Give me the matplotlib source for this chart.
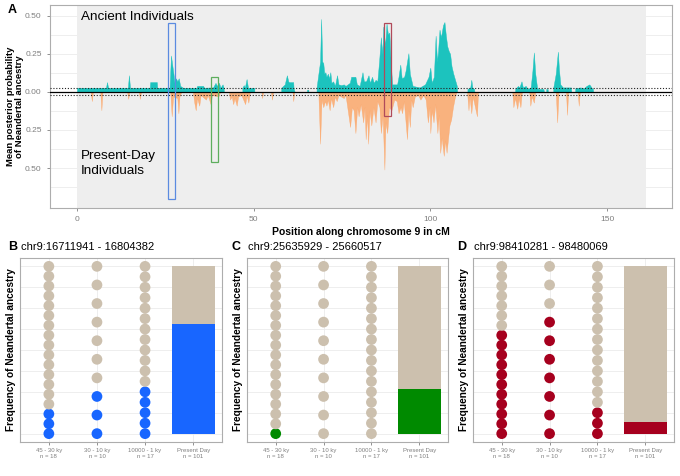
import matplotlib
matplotlib.use("Agg")
import matplotlib.pyplot as plt
from matplotlib.patches import Rectangle

plt.rcParams["font.family"] = ["Liberation Sans", "DejaVu Sans"]

# ── Panel A data: mean posterior probability along chr9 (cM, value) ─────────
ancient_cm = [0, 0, 8.2, 8.5, 8.8, 14.4, 14.7, 15.0, 20.6, 20.7, 22.6, 22.7,
              26.2, 26.6, 27.0, 27.3, 27.6, 28.0, 28.4, 28.8, 29.2, 30.0,
              33.8, 34.0, 35.7, 36.0, 38.5, 39.2, 39.6, 40.2, 40.6, 41.2, 41.5, 41.6,
              46.8, 46.8, 47.2, 47.5, 48.0, 48.4, 50.2, 50.2,
              57.8, 57.8, 58.8, 59.4, 59.8, 60.0, 61.2, 61.3, 61.6,
              65.1, 65.1, 65.5, 65.5,
              67.8, 67.8, 68.8, 69.1, 69.4, 69.7, 70.0, 70.3, 70.6, 71.0, 71.4,
              71.7, 72.0, 72.5, 73.0, 73.6, 74.0, 74.8, 75.5, 76.0, 77.2, 77.6,
              78.8, 79.2, 80.0, 80.8, 81.2, 81.8, 82.5, 82.9, 83.5, 84.0, 84.5,
              85.0, 85.5, 86.0, 86.4, 86.7, 87.2, 87.6, 88.0, 88.4, 88.8, 89.2,
              90.6, 91.0, 91.5, 91.9, 92.6, 93.0, 93.8, 94.2, 94.6, 95.0, 97.0,
              98.5, 99.5, 100.0, 100.4, 101.0, 101.5, 101.9, 102.2, 102.6, 103.0,
              103.6, 104.0, 104.4, 104.8, 105.2, 105.6, 106.0, 106.5, 107.0,
              107.5, 107.6,
              110.5, 110.5, 111.3, 111.6, 111.9, 112.4, 112.5,
              124.0, 124.0, 124.8, 125.2, 125.8, 126.2, 127.0, 127.5, 128.4,
              128.9, 129.3, 129.7, 130.2, 130.5, 132.0, 132.2,
              132.8, 132.8, 133.2, 133.3,
              134.8, 134.8, 135.5, 136.1, 136.4, 136.8, 137.5, 139.8, 139.9,
              141.0, 141.0, 142.5, 143.5, 144.2, 145.0, 145.6, 146.0, 146.1]
ancient_val = [0, 0.028, 0.028, 0.065, 0.028, 0.028, 0.11, 0.028, 0.028, 0.065, 0.065, 0.028,
               0.028, 0.24, 0.17, 0.12, 0.06, 0.09, 0.07, 0.09, 0.04, 0.028,
               0.028, 0.04, 0.04, 0.028, 0.03, 0.06, 0.04, 0.06, 0.028, 0.05, 0.028, 0,
               0, 0.028, 0.045, 0.028, 0.085, 0.028, 0.028, 0,
               0, 0.028, 0.05, 0.11, 0.07, 0.065, 0.065, 0.028, 0,
               0, 0.015, 0.015, 0,
               0, 0.03, 0.2, 0.48, 0.2, 0.19, 0.12, 0.13, 0.1, 0.12, 0.09,
               0.13, 0.06, 0.07, 0.04, 0.11, 0.05, 0.045, 0.05, 0.04, 0.06, 0.1,
               0.1, 0.05, 0.04, 0.13, 0.07, 0.07, 0.11, 0.06, 0.1, 0.06, 0.08,
               0.07, 0.2, 0.36, 0.25, 0.43, 0.3, 0.45, 0.38, 0.39, 0.19, 0.05,
               0.05, 0.1, 0.18, 0.09, 0.1, 0.14, 0.255, 0.12, 0.08, 0.04, 0.03,
               0.05, 0.1, 0.16, 0.06, 0.1, 0.37, 0.2, 0.27, 0.41, 0.36,
               0.44, 0.46, 0.37, 0.3, 0.27, 0.25, 0.17, 0.12, 0.08,
               0.04, 0,
               0, 0.02, 0.03, 0.08, 0.03, 0.02, 0,
               0, 0.02, 0.04, 0.03, 0.07, 0.03, 0.04, 0.02, 0.03,
               0.14, 0.26, 0.12, 0.03, 0.02, 0.02, 0,
               0, 0.02, 0.02, 0,
               0, 0.03, 0.12, 0.265, 0.15, 0.05, 0.03, 0.03, 0,
               0, 0.025, 0.03, 0.025, 0.04, 0.05, 0.03, 0.02, 0]

present_cm = [0, 3.9, 4.2, 4.5, 6.6, 6.9, 7.2, 14.2, 14.5, 14.8, 17.5, 17.8, 18.1,
              26.4, 26.8, 27.2, 28.4, 28.7, 29.0, 29.5, 32.8, 33.2, 33.6, 34.0,
              34.6, 35.0, 36.5, 37.0, 37.8, 38.2, 40.0, 40.5, 43.0, 43.3, 43.8,
              44.2, 44.6, 45.2, 45.6, 46.5, 47.6, 48.0, 48.5, 48.9, 52.2, 52.4,
              52.7, 54.9, 55.2, 55.5, 61.0, 61.2, 61.5, 68.3, 68.8, 69.2, 69.7,
              70.2, 70.6, 71.0, 71.5, 71.9, 72.5, 73.0, 73.5, 74.0, 75.5, 76.0,
              77.3, 77.8, 78.3, 78.8, 79.3, 79.7, 80.3, 81.0, 81.4, 81.7, 82.1,
              82.4, 82.8, 83.3, 83.9, 84.5, 85.0, 85.6, 86.0, 86.5, 87.0, 87.3,
              87.8, 88.3, 89.0, 89.8, 90.5, 91.0, 91.6, 92.0, 92.5, 93.4, 93.8,
              94.2, 94.6, 95.0, 95.6, 96.5, 97.2, 98.0, 98.7, 99.3, 99.8, 100.0,
              100.4, 100.9, 101.4, 102.0, 102.4, 102.8, 103.2, 103.8, 104.2,
              104.6, 105.0, 105.4, 105.9, 106.4, 106.9, 107.4, 110.4, 110.8,
              111.1, 111.6, 112.0, 113.2, 113.5, 123.2, 123.5, 124.0, 124.6,
              125.0, 125.5, 125.9, 128.0, 128.3, 128.7, 129.3, 129.7, 135.5,
              135.9, 136.3, 138.4, 138.7, 139.0, 141.7, 142.0, 142.3]
present_val = [0, 0, 0.06, 0, 0, 0.12, 0, 0, 0.045, 0, 0, 0.045, 0,
               0, 0.16, 0.03, 0.04, 0.14, 0.03, 0, 0, 0.07, 0.12, 0.04,
               0.09, 0.02, 0.05, 0.02, 0.08, 0.02, 0.03, 0, 0, 0.05, 0.03,
               0.08, 0.04, 0.09, 0.03, 0.02, 0.08, 0.02, 0.07, 0, 0, 0.04,
               0, 0, 0.05, 0, 0, 0.06, 0, 0, 0.34, 0.05, 0.1,
               0.06, 0.09, 0.05, 0.12, 0.04, 0.1, 0.03, 0.06, 0.02, 0.04, 0.02,
               0.23, 0.1, 0.12, 0.27, 0.1, 0.16, 0.08, 0.2, 0.1, 0.31, 0.15,
               0.34, 0.12, 0.22, 0.1, 0.2, 0.06, 0.1, 0.27, 0.15, 0.51, 0.2,
               0.27, 0.1, 0.12, 0.05, 0.06, 0.14, 0.1, 0.14, 0.06, 0.31, 0.12,
               0.23, 0.05, 0.1, 0.03, 0.02, 0.05, 0.02, 0.05, 0.2, 0.1, 0.27,
               0.12, 0.2, 0.08, 0.27, 0.15, 0.4, 0.3, 0.42, 0.32,
               0.4, 0.31, 0.22, 0.18, 0.1, 0.04, 0, 0, 0.12,
               0.03, 0.14, 0.03, 0.16, 0, 0, 0.1, 0.04, 0.11,
               0.04, 0.1, 0, 0, 0.09, 0.03, 0.07, 0, 0,
               0.2, 0, 0, 0.15, 0, 0, 0.09, 0]

# highlighted regions (x0, x1, y0, y1) and colours
region_boxes = [(25.7, 27.6, -0.705, 0.452), (37.9, 40.0, -0.46, 0.10),
                (87.0, 88.9, -0.156, 0.452)]
region_edge = ["#5B8BE0", "#5DAE5D", "#B04A5A"]

# ── Panels B-D data ──────────────────────────────────────────────────────────
group_labels = ["45 - 30 ky\nn = 18", "30 - 10 ky\nn = 10",
                "10000 - 1 ky\nn = 17", "Present Day\nn = 101"]
group_n = [18, 10, 17]
present_n = 101
panel_letters = ["B", "C", "D"]
panel_titles = ["chr9:16711941 - 16804382", "chr9:25635929 - 25660517",
                "chr9:98410281 - 98480069"]
panel_colors = ["#1866FF", "#008A00", "#A6001E"]
neand_counts = [[3, 3, 5], [1, 0, 0], [11, 7, 3]]
present_counts = [66, 27, 7]

TEAL = "#1CC3BE"
ORANGE = "#FDA362"
BEIGE = "#CCC0AE"
GRID = "#EBEBEB"
BORDER = "#ADADAD"
TICKC = "#7F7F7F"

fig = plt.figure(figsize=(6.8, 4.76), dpi=100)


def px_axes(l, t, r, b):
    return fig.add_axes([l / 680, 1 - b / 476, (r - l) / 680, (b - t) / 476])


def style_box(ax):
    for s in ax.spines.values():
        s.set_color(BORDER)
        s.set_linewidth(0.8)
    ax.tick_params(colors=TICKC, length=2.5, width=0.6, labelsize=6)


# ── Panel A ─────────────────────────────────────────────────────────────────
ax = px_axes(50, 5, 672, 208)
ax.set_xlim(-7.64, 168.4)
ax.set_ylim(-0.763, 0.572)
for y in [-0.625, -0.5, -0.375, -0.25, -0.125, 0, 0.125, 0.25, 0.375, 0.5]:
    ax.axhline(y, color=GRID, lw=0.6, zorder=0)
ax.add_patch(Rectangle((0, -1), 161, 2, color="#EEEEEE", lw=0, zorder=0.5))
ax.fill_between(ancient_cm, 0, ancient_val, color=TEAL, lw=0.3, zorder=2)
ax.fill_between(present_cm, 0, [-v for v in present_val], color=ORANGE,
                lw=0.3, alpha=0.8, zorder=2)
ax.axhline(0, color="black", lw=0.9, zorder=3)
ax.axhline(0.024, color="#222222", lw=0.8, ls=(0, (1, 1.6)), zorder=3)
ax.axhline(-0.02, color="#222222", lw=0.8, ls=(0, (1, 1.6)), zorder=3)
for (x0, x1, y0, y1), ec in zip(region_boxes, region_edge):
    ax.add_patch(Rectangle((x0, y0), x1 - x0, y1 - y0, fill=False,
                           ec=ec, lw=0.9, zorder=4))
ax.text(1.1, 0.49, "Ancient Individuals", fontsize=9.7, va="center", zorder=5)
ax.text(1.1, -0.47, "Present-Day\nIndividuals", fontsize=9.7, va="center",
        linespacing=1.35, zorder=5)
ax.set_xticks([0, 50, 100, 150])
ax.set_yticks([-0.5, -0.25, 0, 0.25, 0.5])
ax.set_yticklabels(["0.50", "0.25", "0.00", "0.25", "0.50"])
style_box(ax)
ax.set_xlabel("Position along chromosome 9 in cM", fontsize=7.5,
              fontweight="bold", labelpad=3)
ax.set_ylabel("Mean posterior probability\nof Neandertal ancestry",
              fontsize=6.8, fontweight="bold", labelpad=1, linespacing=1.0)
fig.text(8 / 680, 1 - 10 / 476, "A", fontsize=9, fontweight="bold",
         va="center", ha="left")

# ── Panels B-D ──────────────────────────────────────────────────────────────
boxes = [(20, 258, 222, 442), (247, 258, 448, 442), (473, 258, 674, 442)]
letter_x = [8, 232, 457]
for k in range(3):
    l, t, r, b = boxes[k]
    ax = px_axes(l, t, r, b)
    ax.set_xlim(0.4, 4.6)
    ax.set_ylim(-0.05, 1.05)
    for y in [i / 8 for i in range(9)]:
        ax.axhline(y, color=GRID, lw=0.6, zorder=0)
    for x in range(1, 5):
        ax.axvline(x, color=GRID, lw=0.6, zorder=0)
    col = panel_colors[k]
    for g, n in enumerate(group_n):
        ys = [i / (n - 1) for i in range(n)]
        cs = [col if i < neand_counts[k][g] else BEIGE for i in range(n)]
        ax.scatter([g + 1] * n, ys, s=60, c=cs, lw=0, zorder=3)
    frac = present_counts[k] / present_n
    ax.bar(4, frac, width=0.9, color=col, zorder=2)
    ax.bar(4, 1 - frac, bottom=frac, width=0.9, color=BEIGE, zorder=2)
    ax.set_xticks([1, 2, 3, 4])
    ax.set_xticklabels(group_labels, fontsize=4.3, linespacing=1.1)
    ax.set_yticks([])
    style_box(ax)
    ax.tick_params(axis="x", labelsize=4.3, pad=2)
    ax.set_ylabel("Frequency of Neandertal ancestry", fontsize=7.3,
                  fontweight="bold", labelpad=3)
    fig.text(letter_x[k] / 680, 1 - 247 / 476, panel_letters[k], fontsize=9,
             fontweight="bold", va="center", ha="left")
    fig.text((l + 1) / 680, 1 - 247 / 476, panel_titles[k], fontsize=8,
             va="center", ha="left")

fig.savefig("out.png", dpi=100)
